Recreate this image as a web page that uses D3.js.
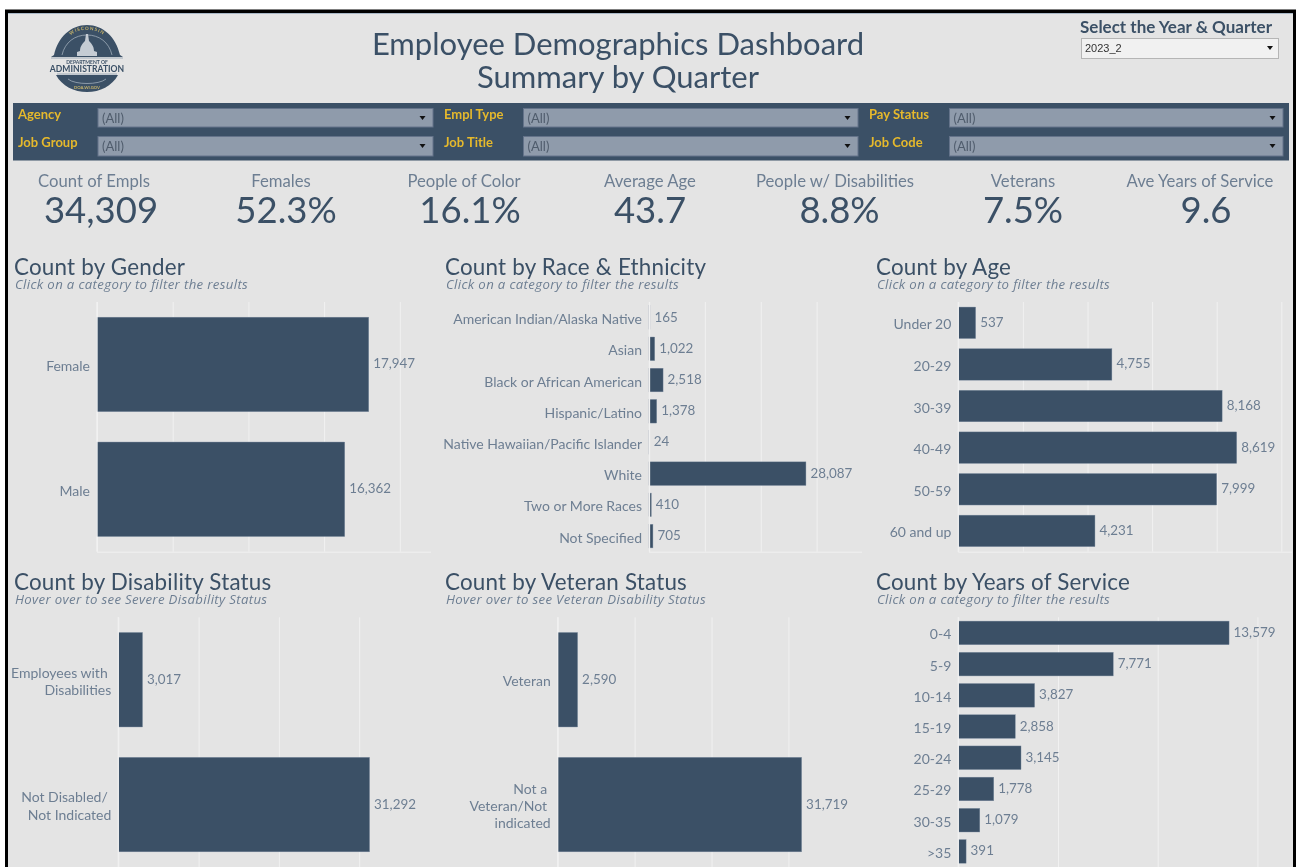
<!DOCTYPE html>
<html>
<head>
<meta charset="utf-8">
<script src="https://cdn.jsdelivr.net/npm/d3@7"></script>
<style>
  html, body { margin: 0; padding: 0; background: #fff; overflow: hidden; }
  svg { display: block; filter: blur(0.4px); }
  text { font-family: Lato, "Open Sans", sans-serif; }
</style>
</head>
<body>
<div id="dashboard"></div>
<script>
const genderCats = ["Female", "Male"];
const genderVals = [17947, 16362];
const raceCats = ["American Indian/Alaska Native", "Asian", "Black or African American", "Hispanic/Latino", "Native Hawaiian/Pacific Islander", "White", "Two or More Races", "Not Specified"];
const raceVals = [165, 1022, 2518, 1378, 24, 28087, 410, 705];
const ageCats = ["Under 20", "20-29", "30-39", "40-49", "50-59", "60 and up"];
const ageVals = [537, 4755, 8168, 8619, 7999, 4231];
const disabilityCats = ["Employees with\u00a0|Disabilities", "Not Disabled/\u00a0|Not Indicated"];
const disabilityVals = [3017, 31292];
const veteranCats = ["Veteran", "Not a\u00a0|Veteran/Not\u00a0|indicated"];
const veteranVals = [2590, 31719];
const serviceCats = ["0-4", "5-9", "10-14", "15-19", "20-24", "25-29", "30-35", ">35"];
const serviceVals = [13579, 7771, 3827, 2858, 3145, 1778, 1079, 391];

const kpiLabels = ["Count of Empls", "Females", "People of Color", "Average Age", "People w/ Disabilities", "Veterans", "Ave Years of Service"];
const kpiValues = ["34,309", "52.3%", "16.1%", "43.7", "8.8%", "7.5%", "9.6"];
const kpiLabelX = [94, 281, 464, 650, 835, 1023, 1200];
const kpiValueX = [101, 286, 470, 650, 839.5, 1023, 1206];

const filterLabels = ["Agency", "Empl Type", "Pay Status", "Job Group", "Job Title", "Job Code"];

const navy = "#3b5066";
const slate = "#6d7e92";
const gold = "#e6b92c";

const svg = d3.select("#dashboard").append("svg")
    .attr("width", 1298)
    .attr("height", 867);

// page frame
svg.append("rect").attr("width", 1298).attr("height", 867).attr("fill", "#fff");
svg.append("rect").attr("x", 5).attr("y", 9.5).attr("width", 1291).attr("height", 870).attr("fill", "#000");
svg.append("rect").attr("x", 8).attr("y", 13).attr("width", 1285).attr("height", 870).attr("fill", "#e4e4e4");
svg.append("rect").attr("x", 8).attr("y", 13).attr("width", 1285).attr("height", 1).attr("fill", "#a9b8c6");

// title
svg.selectAll(".title")
    .data(["Employee Demographics Dashboard", "Summary by Quarter"])
    .enter()
    .append("text")
    .attr("x", 618)
    .attr("y", (d, i) => 55 + i * 33)
    .attr("text-anchor", "middle")
    .attr("fill", navy)
    .style("font-size", "31px")
    .text(d => d);

drawLogo();

// year and quarter selector
svg.append("text")
    .attr("x", 1080).attr("y", 33)
    .attr("fill", navy)
    .style("font-size", "17px").style("font-weight", "700")
    .text("Select the Year & Quarter");
svg.append("rect")
    .attr("x", 1081.5).attr("y", 38.5).attr("width", 197).attr("height", 20)
    .attr("fill", "#f1f1f1").attr("stroke", "#b5b5b5");
svg.append("text")
    .attr("x", 1085).attr("y", 52)
    .attr("fill", "#333")
    .style("font-size", "11px").style("font-family", "'Liberation Sans'")
    .text("2023_2");
arrow(1270, 48, "#111");

// filter band
svg.append("rect").attr("x", 13).attr("y", 103).attr("width", 1276).attr("height", 57.5).attr("fill", navy);
const filterX = [98, 523.5, 949.5];
const filterLabelX = [18, 444, 869];
const filterW = [335, 334.5, 333.5];
filterLabels.forEach((label, i) => {
    const col = i % 3;
    const row = Math.floor(i / 3);
    const top = row === 0 ? 108.5 : 136.5;
    const boxH = row === 0 ? 18.5 : 19.5;
    svg.append("text")
        .attr("x", filterLabelX[col]).attr("y", top + 10.5)
        .attr("fill", gold)
        .style("font-size", "13px").style("font-weight", "700")
        .text(label);
    svg.append("rect")
        .attr("x", filterX[col]).attr("y", top).attr("width", filterW[col]).attr("height", boxH)
        .attr("fill", "#8f9bab").attr("stroke", "#64738a");
    svg.append("text")
        .attr("x", filterX[col] + 4).attr("y", top + 14)
        .attr("fill", "#4f5c6c")
        .style("font-size", "13px")
        .text("(All)");
    arrow(filterX[col] + filterW[col] - 10.5, top + 9.5, "#111");
});

// KPI strip
svg.selectAll(".kpi-label")
    .data(kpiLabels)
    .enter()
    .append("text")
    .attr("x", (d, i) => kpiLabelX[i])
    .attr("y", 187)
    .attr("text-anchor", "middle")
    .attr("fill", slate)
    .style("font-size", "16.7px")
    .text(d => d);
svg.selectAll(".kpi-value")
    .data(kpiValues)
    .enter()
    .append("text")
    .attr("x", (d, i) => kpiValueX[i])
    .attr("y", 222.5)
    .attr("text-anchor", "middle")
    .attr("fill", navy)
    .style("font-size", "36.5px")
    .text(d => d);

// bar panels
drawPanel({ title: "Count by Gender", sub: "Click on a category to filter the results", cats: genderCats, vals: genderVals,
    titleX: 14, titleY: 275, left: 97, right: 431, top: 302, bottom: 551.7, max: 22060, ticks: [0, 5000, 10000, 15000, 20000], line: true, zeroShift: 0 });
drawPanel({ title: "Count by Race & Ethnicity", sub: "Click on a category to filter the results", cats: raceCats, vals: raceVals,
    titleX: 445, titleY: 275, left: 649, right: 862, top: 302, bottom: 551.7, max: 38120, ticks: [0, 10000, 20000, 30000], line: true, zeroShift: 0.5 });
drawPanel({ title: "Count by Age", sub: "Click on a category to filter the results", cats: ageCats, vals: ageVals,
    titleX: 876, titleY: 275, left: 958.3, right: 1292, top: 302, bottom: 551.7, max: 10331, ticks: [0, 2000, 4000, 6000, 8000, 10000], line: true, zeroShift: 0 });
drawPanel({ title: "Count by Disability Status", sub: "Hover over to see Severe Disability Status", cats: disabilityCats, vals: disabilityVals,
    titleX: 14, titleY: 590, left: 118.3, right: 431, top: 617.3, bottom: 867, max: 38940, ticks: [0, 10000, 20000, 30000], line: false, zeroShift: 0 });
drawPanel({ title: "Count by Veteran Status", sub: "Hover over to see Veteran Disability Status", cats: veteranCats, vals: veteranVals,
    titleX: 445, titleY: 590, left: 557.7, right: 862, top: 617.3, bottom: 867, max: 39570, ticks: [0, 10000, 20000, 30000], line: false, zeroShift: 0 });
drawPanel({ title: "Count by Years of Service", sub: "Click on a category to filter the results", cats: serviceCats, vals: serviceVals,
    titleX: 876, titleY: 590, left: 958.3, right: 1292, top: 617.3, bottom: 867, max: 16735, ticks: [0, 5000, 10000, 15000], line: false, zeroShift: 0 });

function drawPanel(p) {
    const x = d3.scaleLinear().domain([0, p.max]).range([p.left, p.right]);
    const y = d3.scaleBand().domain(p.cats).range([p.top, p.bottom]).paddingInner(0.243).paddingOuter(0.1215);
    const g = svg.append("g");

    g.append("text")
        .attr("x", p.titleX).attr("y", p.titleY)
        .attr("fill", navy)
        .style("font-size", "22.4px").style("letter-spacing", "0.2px")
        .text(p.title);
    g.append("text")
        .attr("x", p.titleX + 1).attr("y", p.titleY + 14)
        .attr("fill", slate)
        .style("font-size", "13.2px").style("font-style", "italic").style("letter-spacing", "0.35px")
        .style("font-family", "'Open Sans', sans-serif")
        .text(p.sub);

    // gridlines from the value axis, labels hidden as in the original
    const grid = g.append("g")
        .attr("transform", `translate(0, ${p.bottom})`)
        .call(d3.axisBottom(x).tickValues(p.ticks).tickSize(p.top - p.bottom).tickFormat(""));
    grid.selectAll(".tick line").attr("stroke", "#f1f1f1");
    grid.select(".domain").attr("stroke", p.line ? "#f1f1f1" : "none").attr("d", `M${p.left},0.5H${p.right}`);

    g.selectAll(".bar")
        .data(p.cats)
        .enter()
        .append("rect")
        .attr("x", p.left)
        .attr("y", d => y(d))
        .attr("width", (d, i) => x(p.vals[i]) - p.left)
        .attr("height", y.bandwidth())
        .attr("fill", navy)
        .attr("stroke", "#7f8fa2")
        .attr("stroke-width", 0.4);

    // the zero line sits over the bars, the two smallest race bars vanish under it
    g.append("line")
        .attr("x1", x(0) + p.zeroShift).attr("x2", x(0) + p.zeroShift)
        .attr("y1", p.top).attr("y2", p.bottom)
        .attr("stroke", "#f1f1f1")
        .attr("stroke-width", 1.3);

    g.selectAll(".val")
        .data(p.cats)
        .enter()
        .append("text")
        .attr("x", (d, i) => x(p.vals[i]) + 4.5)
        .attr("y", d => y(d) + y.bandwidth() / 2 + 4)
        .attr("fill", slate)
        .style("font-size", "13.4px")
        .text((d, i) => d3.format(",")(p.vals[i]));

    // category labels, several lines where the name is split with |
    const axis = g.append("g")
        .attr("transform", `translate(${p.left}, 0)`)
        .call(d3.axisLeft(y).tickSize(0).tickPadding(7));
    axis.select(".domain").remove();
    axis.selectAll("text").each(function(d) {
        const parts = d.split("|");
        const t = d3.select(this).text(null).attr("dy", null)
            .attr("fill", slate)
            .style("font-size", "14px")
            .style("font-family", "Lato, sans-serif");
        parts.forEach((s, i) => {
            t.append("tspan")
                .attr("x", -7)
                .attr("y", 6.5 + (i - (parts.length - 1) / 2) * 17.3)
                .text(s);
        });
    });
}

function arrow(cx, cy, color) {
    svg.append("path")
        .attr("d", d3.line()([[cx - 3, cy - 2], [cx + 3, cy - 2], [cx, cy + 2]]) + "Z")
        .attr("fill", color);
}

function drawLogo() {
    const logo = svg.append("g").attr("transform", "translate(87, 59)");
    logo.append("path").attr("d", "M-36,-2 L-33,-4 C-29,-22 -16,-34 0,-34 C16,-34 29,-22 33,-4 L36,-2 Z").attr("fill", navy);
    logo.append("path").attr("d", "M-31,16 L31,16 C25,27 13,33 0,33 C-13,33 -25,27 -31,16 Z").attr("fill", navy);
    // inner arch
    logo.append("path").attr("d", "M-25,-4 C-22,-17 -12,-24 0,-24 C12,-24 22,-17 25,-4").attr("fill", "none").attr("stroke", "#aeb9c4").attr("stroke-width", 0.7);
    logo.append("path").attr("d", "M-19,20 C-12,26 12,26 19,20").attr("fill", "none").attr("stroke", "#aeb9c4").attr("stroke-width", 0.7);
    // capitol
    logo.append("path").attr("d", "M-10,-3 L-10,-7 L-7,-8 C-7,-13 -4,-16 -2,-18 L-1,-25 L1,-25 L2,-18 C4,-16 7,-13 7,-8 L10,-7 L10,-3 Z").attr("fill", "#c5ccd4");
    logo.append("path").attr("d", "M-36,-1 H36").attr("stroke", "#8e9dac").attr("stroke-width", 0.8);
    logo.append("path").attr("d", "M-30,15 H30").attr("stroke", "#8e9dac").attr("stroke-width", 0.8);
    logo.append("text").attr("text-anchor", "middle").attr("y", 5)
        .attr("fill", navy).style("font-size", "5px").style("font-weight", "700").text("DEPARTMENT OF");
    logo.append("text").attr("text-anchor", "middle").attr("y", 12.7)
        .attr("fill", navy).style("font-size", "8.6px").style("font-weight", "700").text("ADMINISTRATION");
    logo.append("path").attr("id", "logo-arc").attr("d", "M-24,-12 C-18,-27 -9,-29 0,-29 C9,-29 18,-27 24,-12").attr("fill", "none");
    logo.append("text").attr("fill", "#c9b56a").style("font-size", "4.6px").style("font-weight", "700").style("letter-spacing", "1px")
        .append("textPath").attr("href", "#logo-arc").attr("startOffset", "50%").attr("text-anchor", "middle").text("WISCONSIN");
    logo.append("text").attr("text-anchor", "middle").attr("y", 30)
        .attr("fill", "#c9b56a").style("font-size", "4.2px").style("font-weight", "700").text("DOA.WI.GOV");
}
</script>
</body>
</html>
